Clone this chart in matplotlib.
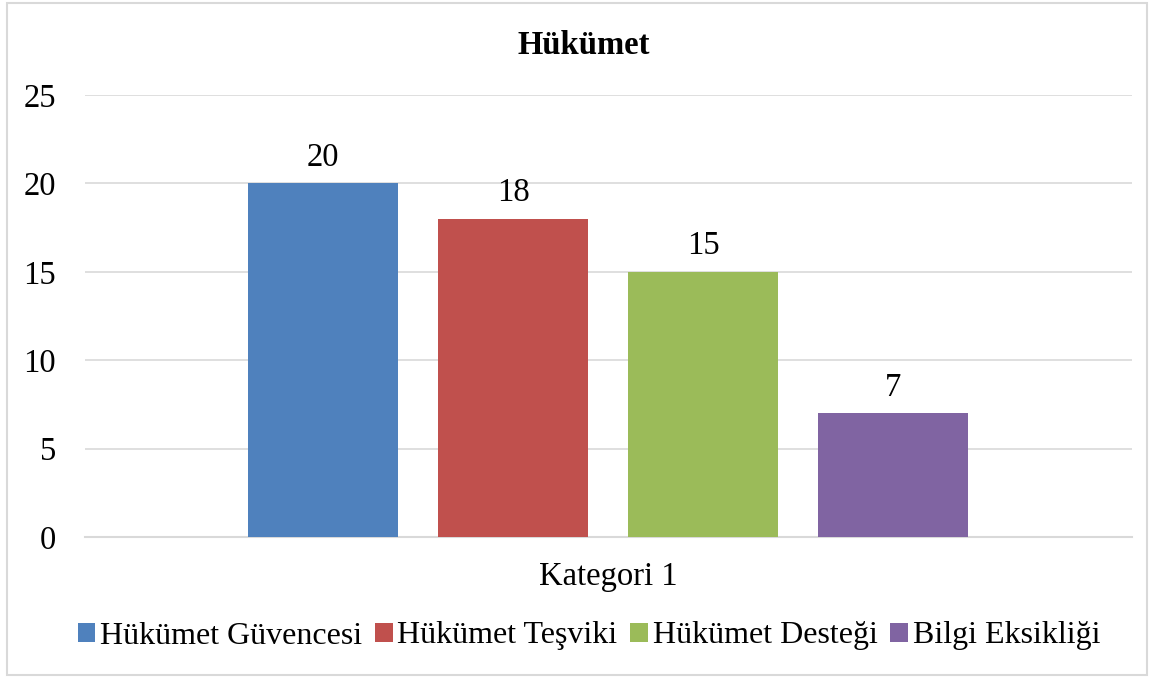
import matplotlib.pyplot as plt
from matplotlib.patches import Rectangle

plt.rcParams['font.family'] = ['Liberation Serif', 'DejaVu Serif']

# Data
title = "Hükümet"
category = "Kategori 1"
series = ["Hükümet Güvencesi", "Hükümet Teşviki", "Hükümet Desteği", "Bilgi Eksikliği"]
values = [20, 18, 15, 7]
colors = ["#4f81bd", "#c0504d", "#9bbb59", "#8064a2"]
yticks = [0, 5, 10, 15, 20, 25]

fs = 23.5

fig = plt.figure(figsize=(11.53, 6.77), dpi=100)
ax = fig.add_axes([85 / 1153, 1 - 537 / 677, 1047 / 1153, 442 / 677])

# outer chart border
fig.patches.append(Rectangle((7 / 1153, 2 / 677), 1140 / 1153, 672 / 677,
                             transform=fig.transFigure, fill=False,
                             edgecolor="#d9d9d9", linewidth=1.5))

pos = range(len(values))
bars = ax.bar(pos, values, width=150 / 190, color=colors, label=series, zorder=3)
for b, v in zip(bars, values):
    ax.text(b.get_x() + b.get_width() / 2, v + 0.6, str(v), ha="center",
            va="bottom", fontsize=fs)

ax.set_xlim(1.5 - 523 / 190, 1.5 - 523 / 190 + 1047 / 190)
ax.set_ylim(0, 25)
ax.set_yticks(yticks)
ax.set_yticklabels([str(t) for t in yticks], fontsize=fs)
ax.yaxis.grid(True, color="#d9d9d9", linewidth=1.2, zorder=0)
ax.tick_params(axis="y", length=0, pad=21)
ax.set_xticks([])
for s in ["top", "right", "left"]:
    ax.spines[s].set_visible(False)
ax.spines["bottom"].set_color("#d9d9d9")
ax.spines["bottom"].set_linewidth(1.5)

fig.text(0.5 * (85 + 1132) / 1153, 1 - 577 / 677, category, ha="center",
         va="center", fontsize=fs)
fig.text(584 / 1153, 1 - 45 / 677, title, ha="center", va="center",
         fontsize=fs, fontweight="bold")

fig.legend(handles=bars, labels=series, loc="center",
           bbox_to_anchor=(589 / 1153, 1 - 636 / 677), ncol=4, frameon=False,
           fontsize=23, handlelength=0.55, handleheight=0.55, handletextpad=0.15,
           columnspacing=0.4)

fig.savefig("out.png", dpi=100)
